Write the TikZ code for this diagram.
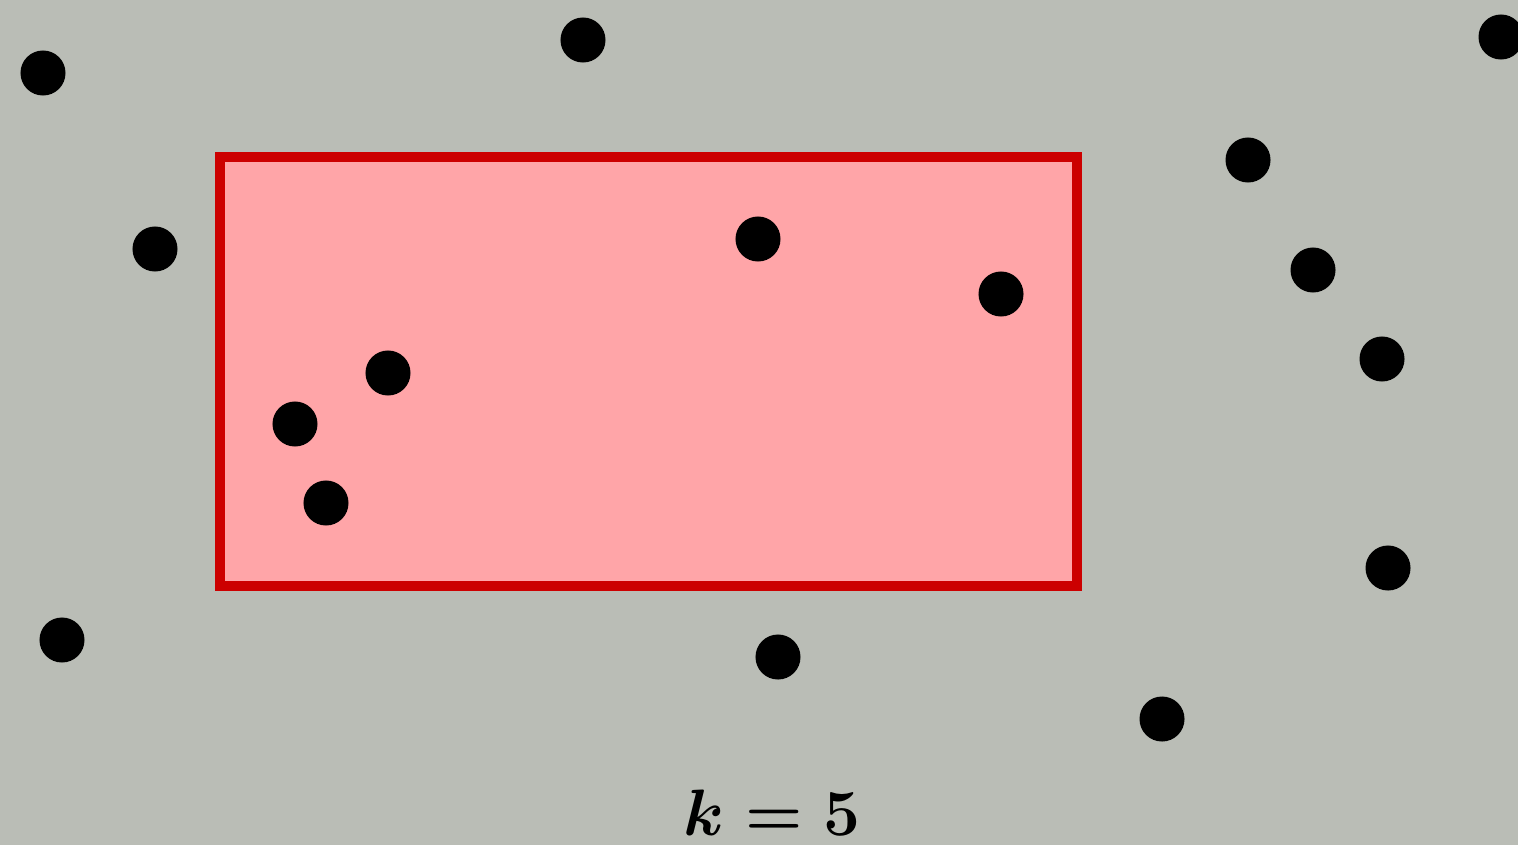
\documentclass[tikz,border=0pt]{standalone}
\usepackage{amsmath}
\usepackage{graphicx}
\definecolor{bg}{HTML}{BABDB6}
\definecolor{boxfill}{HTML}{FFA5A8}
\definecolor{boxline}{HTML}{CC0000}
\newcommand{\klabel}{\scalebox{1.08}{\ensuremath{\boldsymbol{k=5}}}}
\begin{document}
\begin{tikzpicture}[x=0.01cm,y=-0.01cm,
  dot/.style={circle,fill=black,inner sep=0pt,minimum size=0.45cm},
  regionbox/.style={draw=boxline,fill=boxfill,line width=0.1cm},
  labelfont/.style={font=\fontsize{17.28}{21}\selectfont}]
\fill[bg] (0,0) rectangle (1518,845);
\useasboundingbox (0,0) rectangle (1518,845);
\draw[regionbox] (220,157) rectangle (1077,585.5);
\begin{scope}
\clip (0,0) rectangle (1518,845);
\node[dot] (p1) at (43,73) {};
\node[dot] (p2) at (583,40) {};
\node[dot] (p3) at (1501,37) {};
\node[dot] (p4) at (1248,160) {};
\node[dot] (p5) at (155,249) {};
\node[dot] (p6) at (758,239) {};
\node[dot] (p7) at (1001,294) {};
\node[dot] (p8) at (1313,270) {};
\node[dot] (p9) at (1382,359) {};
\node[dot] (p10) at (388,373) {};
\node[dot] (p11) at (295,424) {};
\node[dot] (p12) at (326,503) {};
\node[dot] (p13) at (62,640) {};
\node[dot] (p14) at (778,657) {};
\node[dot] (p15) at (1162,719) {};
\node[dot] (p16) at (1388,568) {};
\end{scope}
\node[anchor=base,inner sep=0pt,labelfont] (lbl) at (772,835) {\klabel};
\end{tikzpicture}
\end{document}
